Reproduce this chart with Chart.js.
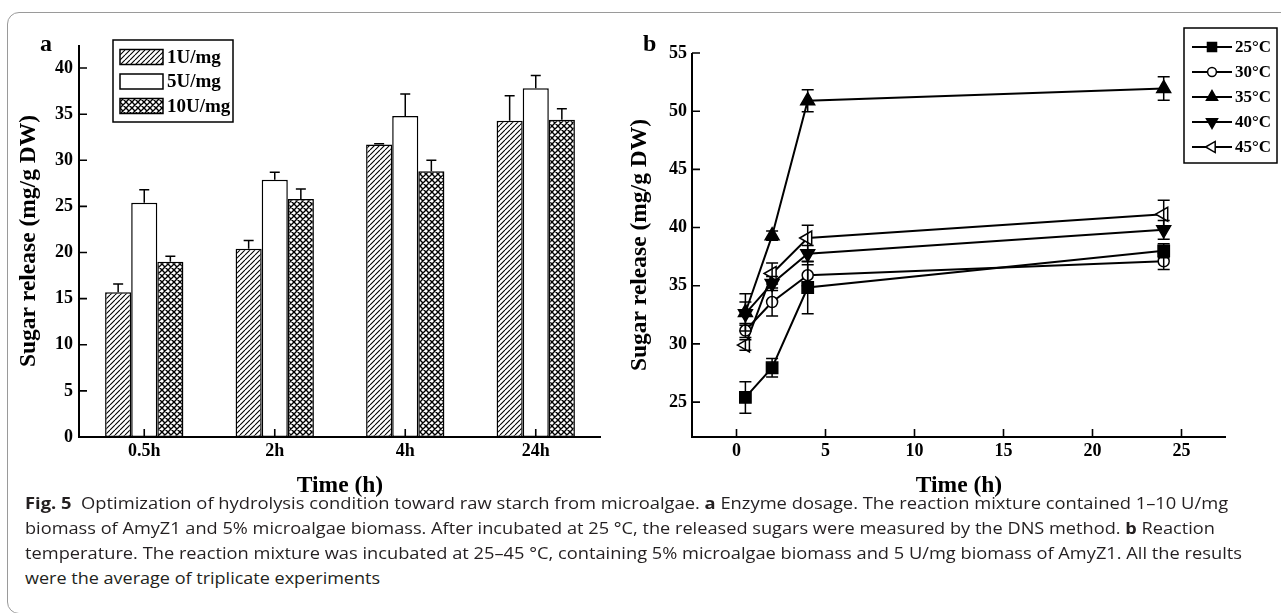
<!DOCTYPE html>
<html>
<head>
<meta charset="utf-8">
<script src="https://cdn.jsdelivr.net/npm/chart.js@4.4.1/dist/chart.umd.min.js"></script>
<style>
  body { margin: 0; width: 1281px; height: 613px; overflow: hidden; background: #fff; position: relative; }
  #frame { position: absolute; left: 7px; top: 12px; width: 1400px; height: 600px; border: 1px solid #9a9a9a; border-radius: 12px; }
  canvas { position: absolute; top: 0; }
  #chartA { left: 0; }
  #chartB { left: 600px; }
  .panel { position: absolute; font: bold 24px 'Liberation Serif', serif; color: #000; line-height: 24px; }
  .cap { position: absolute; left: 25px; font: 16.5px 'Open Sans', sans-serif; line-height: 20px; color: #231f20; white-space: nowrap; transform-origin: 0 0; }
  .cap b { font-weight: 700; }
</style>
</head>
<body>
<div id="frame"></div>
<canvas id="chartA" width="620" height="500"></canvas>
<canvas id="chartB" width="681" height="500"></canvas>
<div class="panel" style="left:40px;top:31px">a</div>
<div class="panel" style="left:643px;top:31px">b</div>
<div class="cap" style="top:493px"><b>Fig. 5</b>&nbsp; Optimization of hydrolysis condition toward raw starch from microalgae. <b>a</b> Enzyme dosage. The reaction mixture contained 1–10 U/mg</div>
<div class="cap" style="top:518px">biomass of AmyZ1 and 5% microalgae biomass. After incubated at 25 °C, the released sugars were measured by the DNS method. <b>b</b> Reaction</div>
<div class="cap" style="top:543px">temperature. The reaction mixture was incubated at 25–45 °C, containing 5% microalgae biomass and 5 U/mg biomass of AmyZ1. All the results</div>
<div class="cap" style="top:568px">were the average of triplicate experiments</div>

<script>
// ---- data: panel a (enzyme dosage) ----
const timeLabels = ['0.5h', '2h', '4h', '24h'];
const dose1U = [15.7, 20.4, 31.7, 34.3];
const dose1UErr = [0.9, 0.9, 0.1, 2.7];
const dose5U = [25.4, 27.9, 34.8, 37.8];
const dose5UErr = [1.4, 0.8, 2.4, 1.4];
const dose10U = [19.0, 25.8, 28.8, 34.4];
const dose10UErr = [0.6, 1.1, 1.2, 1.2];
const doseTicks = [0, 5, 10, 15, 20, 25, 30, 35, 40];

// ---- data: panel b (reaction temperature) ----
const hours = [0.5, 2, 4, 24];
const temp25 = [25.4, 27.95, 34.85, 38.0];
const temp25Err = [1.35, 0.8, 2.25, 0.6];
const temp30 = [31.15, 33.6, 35.9, 37.1];
const temp30Err = [0.6, 1.2, 0.9, 0.7];
const temp35 = [32.7, 39.3, 50.9, 51.95];
const temp35Err = [1.6, 0.4, 0.95, 1.0];
const temp40 = [32.6, 35.2, 37.75, 39.8];
const temp40Err = [1.0, 0.6, 0.7, 0.8];
const temp45 = [29.9, 36.05, 39.1, 41.15];
const temp45Err = [0.45, 0.9, 1.1, 1.2];
const hourTicks = [0, 5, 10, 15, 20, 25];
const releaseTicks = [25, 30, 35, 40, 45, 50, 55];

const serif = "'Liberation Serif', 'Times New Roman', serif";

// fill patterns for the bars
function makePattern(cross) {
    const c = document.createElement('canvas');
    const s = cross ? 6 : 5;
    c.width = s; c.height = s;
    const g = c.getContext('2d');
    g.fillStyle = '#fff';
    g.fillRect(0, 0, s, s);
    g.strokeStyle = '#000';
    g.lineWidth = cross ? 1.4 : 1.1;
    g.beginPath();
    for (let k = -1; k <= 1; k++) {
        g.moveTo(k * s, s); g.lineTo(k * s + s, 0);
        if (cross) { g.moveTo(k * s, 0); g.lineTo(k * s + s, s); }
    }
    g.stroke();
    return g.createPattern(c, 'repeat');
}

// error bars from dataset.errors
const errorBars = {
    id: 'errorBars',
    afterDatasetsDraw(chart, args, opts) {
        const ctx = chart.ctx;
        ctx.save();
        ctx.strokeStyle = '#000';
        ctx.lineWidth = 1.5;
        chart.data.datasets.forEach((ds, i) => {
            if (!ds.errors) return;
            const meta = chart.getDatasetMeta(i);
            const yScale = chart.scales[meta.yAxisID];
            meta.data.forEach((el, j) => {
                const d = ds.data[j];
                const v = typeof d === 'object' ? d.y : d;
                const e = ds.errors[j];
                const top = yScale.getPixelForValue(v + e);
                const bot = opts.upOnly ? el.y : yScale.getPixelForValue(v - e);
                ctx.beginPath();
                ctx.moveTo(el.x, top); ctx.lineTo(el.x, bot);
                ctx.moveTo(el.x - opts.cap, top); ctx.lineTo(el.x + opts.cap, top);
                if (!opts.upOnly) { ctx.moveTo(el.x - opts.cap, bot); ctx.lineTo(el.x + opts.cap, bot); }
                ctx.stroke();
            });
        });
        ctx.restore();
    }
};

// axis lines with inward tick marks
const inwardAxes = {
    id: 'inwardAxes',
    afterDatasetsDraw(chart, args, opts) {
        const {ctx, chartArea: a} = chart;
        const x = chart.scales.x, y = chart.scales.y;
        ctx.save();
        ctx.strokeStyle = '#000';
        ctx.lineWidth = 2;
        ctx.beginPath();
        ctx.moveTo(a.left, a.top); ctx.lineTo(a.left, a.bottom); ctx.lineTo(a.right, a.bottom);
        ctx.stroke();
        ctx.lineWidth = 1.6;
        ctx.beginPath();
        x.ticks.forEach((t, i) => {
            const px = x.getPixelForTick(i);
            ctx.moveTo(px, a.bottom); ctx.lineTo(px, a.bottom - opts.len);
        });
        y.ticks.forEach((t, i) => {
            const py = y.getPixelForTick(i);
            ctx.moveTo(a.left, py); ctx.lineTo(a.left + opts.len, py);
        });
        ctx.stroke();
        ctx.restore();
    }
};

// boxed legends drawn inside the plot
const boxLegend = {
    id: 'boxLegend',
    afterDraw(chart, args, o) {
        const ctx = chart.ctx;
        ctx.save();
        ctx.strokeStyle = '#000';
        ctx.lineWidth = 1.5;
        ctx.strokeRect(o.x, o.y, o.w, o.h);
        ctx.font = 'bold ' + o.fontSize + 'px ' + serif;
        ctx.textBaseline = 'middle';
        ctx.fillStyle = '#000';
        chart.data.datasets.forEach((ds, i) => {
            const cy = o.y + o.first + i * o.step;
            if (o.kind === 'bar') {
                ctx.fillStyle = ds.backgroundColor;
                ctx.fillRect(o.x + 7, cy - 7.5, 43, 15);
                ctx.strokeRect(o.x + 7, cy - 7.5, 43, 15);
            } else {
                ctx.lineWidth = 2;
                ctx.beginPath();
                ctx.moveTo(o.x + 8, cy); ctx.lineTo(o.x + 48, cy);
                ctx.stroke();
                ctx.fillStyle = ds.pointBackgroundColor;
                ctx.lineWidth = 1.5;
                Chart.helpers.drawPoint(ctx, {
                    pointStyle: ds.pointStyle, radius: ds.pointRadius * 0.8,
                    rotation: ds.pointRotation || 0, borderWidth: 1.5
                }, o.x + 28, cy);
            }
            ctx.fillStyle = '#000';
            ctx.fillText(ds.label, o.x + o.textX, cy + 1);
        });
        ctx.restore();
    }
};

const tickFont = {family: serif, size: 18, weight: 'bold'};
const titleFont = {family: serif, size: 23.5, weight: 'bold'};

function axisX(extra) {
    return Object.assign({
        grid: {display: false, drawTicks: false},
        border: {display: false},
        ticks: {color: '#000', font: tickFont, padding: 4, maxRotation: 0},
        title: {display: true, text: 'Time (h)', color: '#000', font: titleFont, padding: 0},
        afterFit: s => { s.height = 63; }
    }, extra);
}

// ---- panel a ----
new Chart(document.getElementById('chartA'), {
    type: 'bar',
    data: {
        labels: timeLabels,
        datasets: [
            {label: '1U/mg', data: dose1U, errors: dose1UErr, backgroundColor: makePattern(false)},
            {label: '5U/mg', data: dose5U, errors: dose5UErr, backgroundColor: '#fff'},
            {label: '10U/mg', data: dose10U, errors: dose10UErr, backgroundColor: makePattern(true)}
        ].map(d => Object.assign(d, {borderColor: '#000', borderWidth: 1.5, borderSkipped: false,
            categoryPercentage: 0.6, barPercentage: 1}))
    },
    options: {
        responsive: false,
        animation: false,
        events: [],
        layout: {padding: {left: 15, top: 45, right: 19, bottom: 0}},
        plugins: {
            legend: {display: false},
            tooltip: {enabled: false},
            errorBars: {upOnly: true, cap: 5},
            inwardAxes: {len: 8},
            boxLegend: {kind: 'bar', x: 113, y: 40, w: 120, h: 82, first: 17, step: 24.5, textX: 54, fontSize: 19}
        },
        scales: {
            x: axisX({}),
            y: {
                min: 0, max: 42.5,
                grid: {display: false, drawTicks: false},
                border: {display: false},
                ticks: {color: '#000', font: tickFont, padding: 6},
                afterBuildTicks: s => { s.ticks = doseTicks.map(v => ({value: v})); },
                title: {display: true, text: 'Sugar release (mg/g DW)', color: '#000', font: titleFont, padding: 0},
                afterFit: s => { s.width = 64; }
            }
        }
    },
    plugins: [errorBars, inwardAxes, boxLegend]
});

// ---- panel b ----
const pts = ys => hours.map((h, i) => ({x: h, y: ys[i]}));
const lineSet = (label, ys, errs, style, fill, radius, rot) => ({
    label: label, data: pts(ys), errors: errs,
    borderColor: '#000', borderWidth: 2, tension: 0,
    pointStyle: style, pointRadius: radius, pointRotation: rot,
    pointBackgroundColor: fill, pointBorderColor: '#000', pointBorderWidth: 1.5
});

new Chart(document.getElementById('chartB'), {
    type: 'line',
    data: {
        datasets: [
            lineSet('25°C', temp25, temp25Err, 'rect', '#000', 8, 0),
            lineSet('30°C', temp30, temp30Err, 'circle', '#fff', 5.5, 0),
            lineSet('35°C', temp35, temp35Err, 'triangle', '#000', 8, 0),
            lineSet('40°C', temp40, temp40Err, 'triangle', '#000', 8, 180),
            lineSet('45°C', temp45, temp45Err, 'triangle', '#fff', 8, 270)
        ]
    },
    options: {
        responsive: false,
        animation: false,
        events: [],
        layout: {padding: {left: 26, top: 53, right: 55, bottom: 0}},
        plugins: {
            legend: {display: false},
            tooltip: {enabled: false},
            errorBars: {upOnly: false, cap: 6},
            inwardAxes: {len: 8},
            boxLegend: {kind: 'line', x: 584, y: 28, w: 93, h: 135, first: 19, step: 25, textX: 51, fontSize: 17}
        },
        scales: {
            x: axisX({
                type: 'linear', min: -2.5, max: 27.5,
                afterBuildTicks: s => { s.ticks = hourTicks.map(v => ({value: v})); }
            }),
            y: {
                min: 22, max: 55,
                grid: {display: false, drawTicks: false},
                border: {display: false},
                ticks: {color: '#000', font: tickFont, padding: 5},
                afterBuildTicks: s => { s.ticks = releaseTicks.map(v => ({value: v})); },
                title: {display: true, text: 'Sugar release (mg/g DW)', color: '#000', font: titleFont, padding: 0},
                afterFit: s => { s.width = 66; }
            }
        }
    },
    plugins: [errorBars, inwardAxes, boxLegend]
});

// stretch caption lines to the measured widths of the figure text
const captionWidths = [1203, 1190, 1217, 355];
document.querySelectorAll('.cap').forEach((el, i) => {
    el.style.transform = 'scaleX(' + (captionWidths[i] / el.scrollWidth) + ')';
});
</script>
</body>
</html>
